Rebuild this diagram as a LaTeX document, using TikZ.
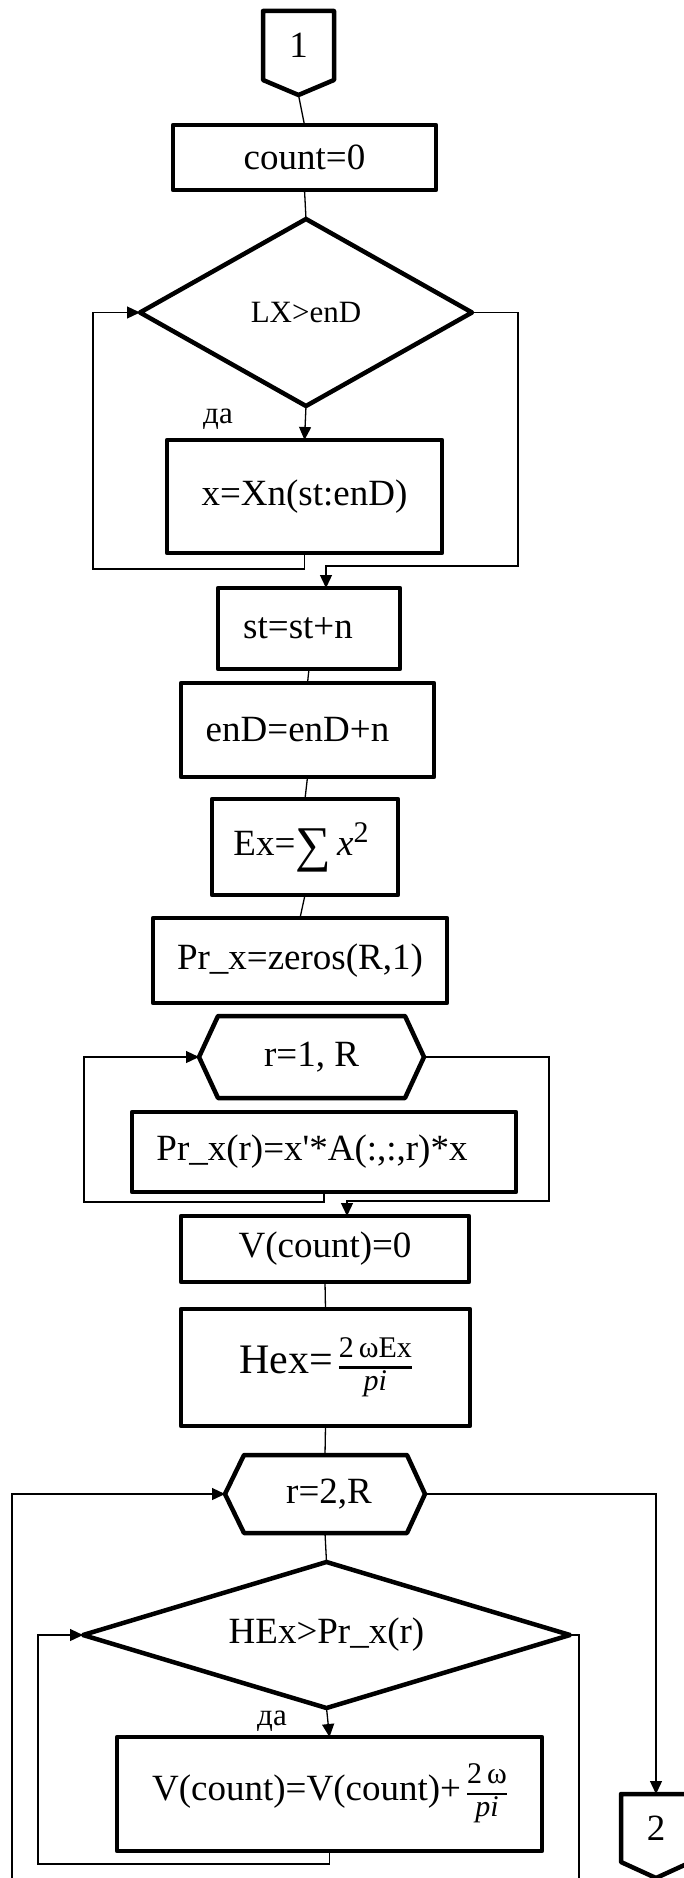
\documentclass[tikz,border=0pt]{standalone}
\usepackage{fontspec}
\setmainfont{Liberation Serif}
\usetikzlibrary{arrows.meta,shapes.geometric,calc}
\newcommand\bigfnt{\fontsize{37}{44}\selectfont}
\newcommand\smfnt{\fontsize{31}{37}\selectfont}
\newcommand\frfnt{\fontsize{30}{32}\selectfont}
\newcommand\myfrac[2]{{\frfnt\setlength\arrayrulewidth{2.5pt}\renewcommand\arraystretch{0.95}\begin{tabular}{@{}c@{}}#1\\\hline #2\end{tabular}}}
\tikzset{
  thk/.style={line width=4.5pt, line join=round},
  ln/.style={line width=1.3pt},
  arr/.style={line width=1.3pt, -{Triangle[length=13pt,width=12pt]}},
  blk/.style 2 args={draw, thk, rectangle, minimum width=#1, minimum height=#2, inner sep=0pt, outer sep=0pt, font=\bigfnt},
  dia/.style 2 args={draw, thk, diamond, minimum width=#1, minimum height=#2, inner sep=0pt, outer sep=0pt, font=\bigfnt},
  hexn/.style 2 args={rectangle, minimum width=#1, minimum height=#2, inner sep=0pt, outer sep=0pt, font=\bigfnt},
  conn/.style={rectangle, minimum width=71pt, minimum height=69pt, inner sep=0pt, outer sep=0pt, font=\bigfnt},
  lbl/.style={inner sep=0pt, font=\smfnt}
}
\begin{document}
\begin{tikzpicture}[x=1pt,y=-1pt]
\useasboundingbox (0,0) rectangle (684,1878);
\clip (0,0) rectangle (684,1878);
% connector 1
\node[conn] (c1) at (298.5,45.5) {1};
\draw[thk] (c1.north west) -- (c1.north east) -- (c1.south east) -- ([yshift=-15pt]c1.south) -- (c1.south west) -- cycle;
\coordinate (c1p) at ([yshift=-15pt]c1.south);
% blocks
\node[blk={263pt}{65pt}] (cnt) at (304.5,157.5) {count=0};
\node[dia={332pt}{187pt}, aspect=1.78, font=\smfnt] (d1) at (306,312.5) {LX>enD};
\node[lbl] (yes1) at (218,419) {да};
\node[blk={275pt}{113pt}] (xb) at (304.5,496.5) {x=Xn(st:enD)};
\node[blk={182pt}{81pt}] (st) at (309,628.5) {\hspace*{-22pt}st=st+n};
\node[blk={253pt}{94pt}] (en) at (307.5,730) {\hspace*{-20pt}enD=enD+n};
\node[blk={186pt}{96pt}] (ex) at (305,847) {\hspace*{-8pt}Ex=\raisebox{-6pt}{\fontsize{50}{50}\selectfont ∑}\,\textit{x}\raisebox{13pt}{\frfnt 2}};
\node[blk={294pt}{85pt}] (pz) at (300,960.5) {Pr\_x=zeros(R,1)};
\node[hexn={225pt}{82pt}] (h1) at (311.5,1057) {r=1, R};
\draw[thk] (h1.west) -- ([xshift=19pt]h1.north west) -- ([xshift=-19pt]h1.north east) -- (h1.east) -- ([xshift=-19pt]h1.south east) -- ([xshift=19pt]h1.south west) -- cycle;
\node[blk={384pt}{80pt}] (prx) at (324,1152) {\hspace*{-24pt}Pr\_x(r)=x\textquotesingle*A(:,:,r)*x};
\node[blk={288pt}{66pt}] (v0) at (325,1249) {V(count)=0};
\node[blk={289pt}{117pt}] (hx) at (325.5,1367.5) {{\fontsize{42}{46}\selectfont Hex=}\,\myfrac{2\,ωEx}{\textit{pi}}};
\node[hexn={200pt}{78pt}] (h2) at (325,1494) {\hspace*{8pt}r=2,R};
\draw[thk] (h2.west) -- ([xshift=19pt]h2.north west) -- ([xshift=-18pt]h2.north east) -- (h2.east) -- ([xshift=-18pt]h2.south east) -- ([xshift=19pt]h2.south west) -- cycle;
\node[dia={487pt}{146pt}, aspect=3.34] (d2) at (326.5,1635) {HEx>Pr\_x(r)};
\node[lbl] (yes2) at (272,1721) {да};
\node[blk={425pt}{114pt}] (vb) at (329.5,1794) {V(count)=V(count)+\,\myfrac{2\,ω}{\textit{pi}}};
% connector 2
\node[conn, minimum width=70pt, minimum height=68pt] (c2) at (656,1828) {2};
\draw[thk] (c2.north west) -- (c2.north east) -- (c2.south east) -- ([yshift=-16pt]c2.south) -- (c2.south west) -- cycle;
% connectors
\draw[ln] (c1p) -- (cnt.north);
\draw[ln] (cnt.south) -- (d1.north);
\draw[arr] (d1.south) -- (xb.north);
\draw[arr] (xb.south) |- (93,569) |- (d1.west);
\draw[arr] (d1.east) -| (518,566) -| ([xshift=17pt]st.north);
\draw[ln] (st.south) -- (en.north);
\draw[ln] (en.south) -- (ex.north);
\draw[ln] (ex.south) -- (pz.north);
\draw[arr] (prx.south) |- (84,1202) |- (h1.west);
\draw[arr] (h1.east) -| (549,1201) -| ([xshift=22pt]v0.north);
\draw[ln] (v0.south) -- (hx.north);
\draw[ln] (hx.south) -- (h2.north);
\draw[ln] (h2.south) -- (d2.north);
\draw[arr] (d2.south) -- (vb.north);
\draw[arr] (vb.south) |- (38,1864) |- (d2.west);
\coordinate (outR) at (579,1878);
\draw[ln] (d2.east) -| (outR);
\coordinate (outL) at (12,1878);
\draw[arr] (outL) |- (h2.west);
\draw[arr] (h2.east) -| (c2.north);
\end{tikzpicture}
\end{document}
